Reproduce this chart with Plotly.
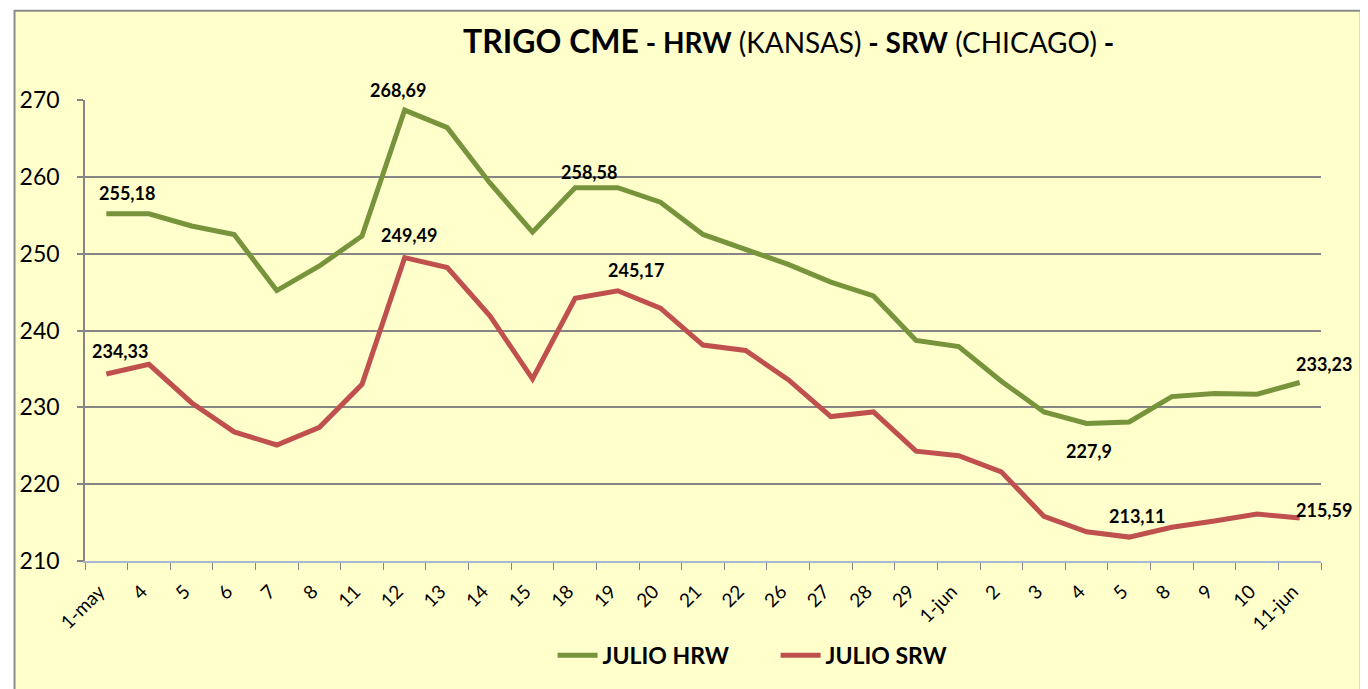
import plotly.graph_objects as go

# ---- data ----
categories = ["1-may", "4", "5", "6", "7", "8", "11", "12", "13", "14", "15", "18", "19", "20",
              "21", "22", "26", "27", "28", "29", "1-jun", "2", "3", "4", "5", "8", "9", "10", "11-jun"]
julio_hrw = [255.18, 255.18, 253.6, 252.5, 245.2, 248.4, 252.3, 268.69, 266.4, 259.2, 252.8,
             258.58, 258.58, 256.7, 252.5, 250.5, 248.6, 246.3, 244.5, 238.7, 237.9, 233.4,
             229.4, 227.9, 228.1, 231.4, 231.8, 231.7, 233.23]
julio_srw = [234.33, 235.6, 230.6, 226.8, 225.1, 227.4, 233.0, 249.49, 248.2, 241.9, 233.7,
             244.2, 245.17, 242.9, 238.1, 237.4, 233.6, 228.8, 229.4, 224.3, 223.7, 221.6,
             215.8, 213.8, 213.11, 214.4, 215.2, 216.1, 215.59]
y_ticks = [210, 220, 230, 240, 250, 260, 270]

# labelled points: index -> offsets (style only)
hrw_labels = {0: (21, 21), 7: (-7, 20), 11: (14, 16), 23: (2, -28), 28: (24, 19)}
srw_labels = {0: (14, 23), 7: (4, 23), 12: (18, 21), 24: (8, 21), 28: (24, 8)}

GREEN = "#77933C"
RED = "#C0504D"
GRID = "#868686"
FONT = "Lato"

OFF = 8  # page body margin
W, H = 1368 - OFF, 689 - OFF
L, R, T, B = 76 - OFF, 1368 - 1321, 100 - OFF, 689 - 565
PW, PH = W - L - R, H - T - B

def px_x(p):
    return (p - OFF - L) / PW

def px_y(p):
    return (H - B - (p - OFF)) / PH

xs = list(range(len(categories)))

fig = go.Figure()
fig.add_trace(go.Scatter(x=xs, y=julio_hrw, mode="lines", name="JULIO HRW",
                         line=dict(color=GREEN, width=5)))
fig.add_trace(go.Scatter(x=xs, y=julio_srw, mode="lines", name="JULIO SRW",
                         line=dict(color=RED, width=5)))

def fmt(v):
    return f"{v:g}".replace(".", ",")

annotations = []
for series, lab in ((julio_hrw, hrw_labels), (julio_srw, srw_labels)):
    for i, (dx, dy) in lab.items():
        annotations.append(dict(x=xs[i], y=series[i], xref="x", yref="y", text=fmt(series[i]),
                                showarrow=False, xshift=dx, yshift=dy,
                                xanchor="center", yanchor="middle",
                                font=dict(family=FONT, size=18, color="black", weight="bold")))

title = ('<span style="font-size:32px"><b>TRIGO CME</b></span>'
         '<b> - HRW</b> (KANSAS)<b> - SRW</b> (CHICAGO)<b> -</b>')
annotations.append(dict(x=px_x(785), y=px_y(40), xref="paper", yref="paper", text=title,
                        showarrow=False, xanchor="center", yanchor="middle",
                        font=dict(family=FONT, size=28, color="black")))

fig.update_layout(
    width=W, height=H,
    margin=dict(l=L, r=R, t=T, b=B, pad=0),
    paper_bgcolor="white",
    plot_bgcolor="rgba(0,0,0,0)",
    font=dict(family=FONT, color="black"),
    showlegend=True,
    legend=dict(orientation="h", x=px_x(547), y=px_y(660), xanchor="left", yanchor="middle",
                font=dict(family=FONT, size=23, color="black", weight="bold"),
                bgcolor="rgba(0,0,0,0)", itemwidth=40, tracegroupgap=0,
                entrywidth=168, entrywidthmode="pixels"),
    annotations=annotations,
    shapes=[dict(type="rect", xref="paper", yref="paper",
                 x0=px_x(5), x1=px_x(1361), y0=px_y(700), y1=px_y(10),
                 fillcolor="#FFFFCC", line=dict(color="#8C8C8C", width=2), layer="below")],
    xaxis=dict(range=[-0.5, len(categories) - 0.5], tickmode="array", tickvals=xs,
               ticktext=categories, tickangle=-45, ticks="", showgrid=False,
               showline=True, linecolor="#A9B8D0", linewidth=2, zeroline=False,
               ticklabelstandoff=10, ticklabelshift=-7,
               tickfont=dict(family=FONT, size=19, color="black"),
               minor=dict(tickmode="array", tickvals=[i - 0.5 for i in range(len(categories) + 1)],
                          ticks="outside", ticklen=7, tickcolor=GRID, tickwidth=1, showgrid=False)),
    yaxis=dict(range=[210, 270], tickmode="array", tickvals=y_ticks,
               showgrid=True, gridcolor=GRID, gridwidth=1.5, zeroline=False,
               showline=True, linecolor=GRID, linewidth=1.5,
               ticks="outside", ticklen=6, tickcolor=GRID, tickwidth=1.5,
               ticklabelstandoff=13,
               tickfont=dict(family=FONT, size=23, color="black")),
)

fig.write_html("out.html")
